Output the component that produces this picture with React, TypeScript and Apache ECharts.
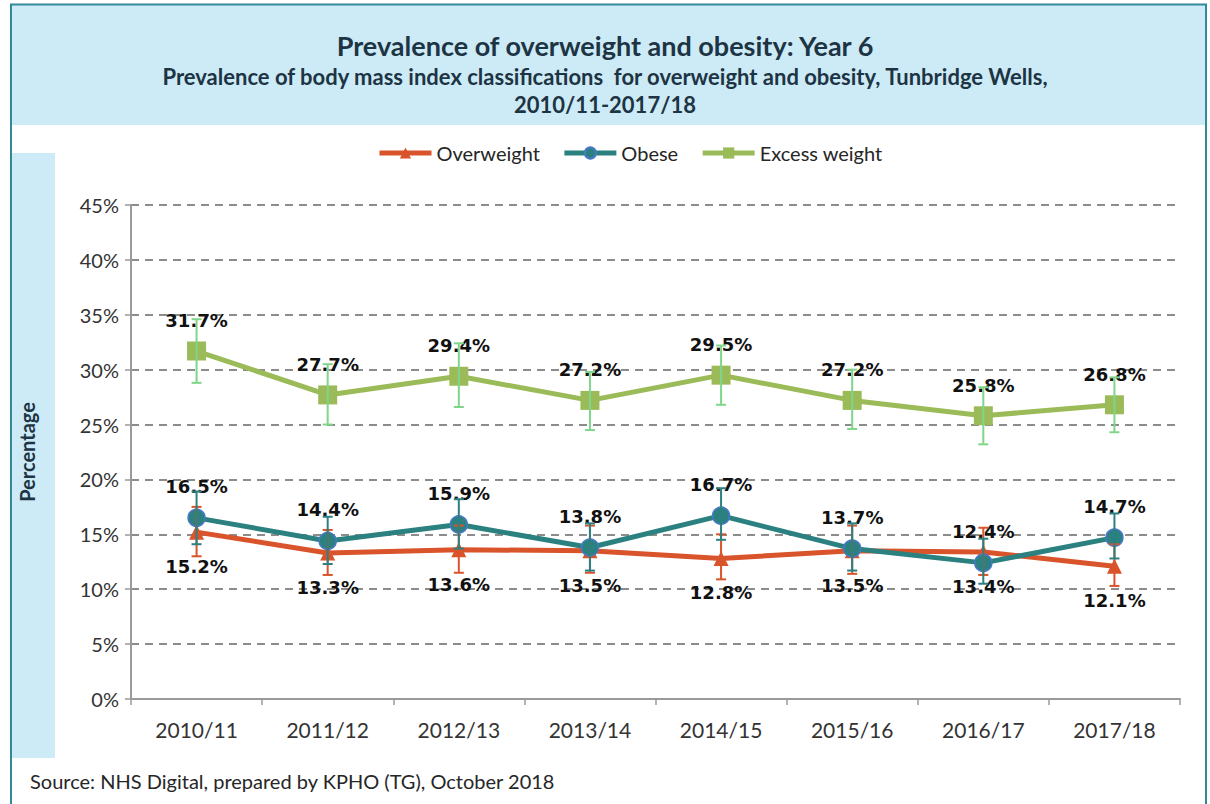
import React, { useEffect, useRef } from "react";
import * as echarts from "echarts";

const categories = ["2010/11", "2011/12", "2012/13", "2013/14", "2014/15", "2015/16", "2016/17", "2017/18"];
const overweight = [15.2, 13.3, 13.6, 13.5, 12.8, 13.5, 13.4, 12.1];
const overweightLower = [13.0, 11.3, 11.5, 11.5, 10.9, 11.4, 11.3, 10.3];
const overweightUpper = [17.5, 15.4, 15.8, 15.8, 15.0, 15.8, 15.6, 14.1];
const obese = [16.5, 14.4, 15.9, 13.8, 16.7, 13.7, 12.4, 14.7];
const obeseLower = [14.1, 12.3, 13.7, 11.7, 14.5, 11.7, 10.5, 12.8];
const obeseUpper = [18.9, 16.6, 18.2, 16.0, 19.2, 16.0, 14.6, 16.9];
const excess = [31.7, 27.7, 29.4, 27.2, 29.5, 27.2, 25.8, 26.8];
const excessLower = [28.8, 25.0, 26.6, 24.5, 26.8, 24.6, 23.2, 24.3];
const excessUpper = [34.6, 30.5, 32.4, 29.8, 32.2, 30.0, 28.4, 29.3];

const RED = "#d9532b";
const TEAL = "#2b8080";
const GREEN = "#9bbb59";
const GREEN_ERR = "#7fd68a";
const FONT = "Lato, 'Open Sans', sans-serif";
const LABEL_FONT = "'DejaVu Sans', sans-serif";

function errorSeries(name: string, lower: number[], upper: number[], color: string) {
  return {
    type: "custom",
    name,
    z: 3,
    silent: true,
    renderItem: (params: any, api: any) => {
      const x = api.value(0);
      const top = api.coord([x, api.value(2)]);
      const bot = api.coord([x, api.value(1)]);
      const w = 5;
      const style = { stroke: color, lineWidth: 2 };
      return {
        type: "group",
        children: [
          { type: "line", shape: { x1: top[0], y1: top[1], x2: bot[0], y2: bot[1] }, style },
          { type: "line", shape: { x1: top[0] - w, y1: top[1], x2: top[0] + w, y2: top[1] }, style },
          { type: "line", shape: { x1: bot[0] - w, y1: bot[1], x2: bot[0] + w, y2: bot[1] }, style },
        ],
      };
    },
    data: categories.map((_, i) => [i, lower[i], upper[i]]),
  };
}

function labelCfg(position: string, distance: number) {
  return {
    show: true,
    position,
    distance,
    formatter: (p: any) => `${p.value.toFixed(1)}%`,
    fontFamily: LABEL_FONT,
    fontWeight: "bold",
    fontSize: 18,
    color: "#111",
  };
}

export default function App() {
  const ref = useRef<HTMLDivElement>(null);
  useEffect(() => {
    const chart = echarts.init(ref.current!, null, { renderer: "svg" });
    chart.setOption({
      animation: false,
      backgroundColor: "#ffffff",
      graphic: [
        { type: "rect", z: -10, shape: { x: 12, y: 5, width: 1194, height: 120 }, style: { fill: "#cdebf6" } },
        { type: "rect", z: -10, shape: { x: 12, y: 153, width: 43, height: 605 }, style: { fill: "#cdebf6" } },
        { type: "rect", z: -9, shape: { x: 11, y: 4.5, width: 1195, height: 820 }, style: { fill: "none", stroke: "#31899a", lineWidth: 2 } },
        {
          type: "text",
          left: 30,
          top: 771,
          style: { text: "Source: NHS Digital, prepared by KPHO (TG), October 2018", fontFamily: FONT, fontSize: 20, fill: "#262626" },
        },
      ],
      title: [
        {
          text: "Prevalence of overweight and obesity: Year 6",
          left: "center",
          top: 27,
          textStyle: { fontFamily: FONT, fontWeight: "bold", fontSize: 27, color: "#1d3444" },
        },
        {
          text: "Prevalence of body mass index classifications  for overweight and obesity, Tunbridge Wells,\n2010/11-2017/18",
          left: "center",
          top: 57,
          textStyle: { fontFamily: FONT, fontWeight: "bold", fontSize: 22, color: "#1d3444", lineHeight: 28 },
        },
      ],
      legend: {
        top: 138,
        left: 372,
        itemWidth: 52,
        itemHeight: 14,
        itemGap: 22,
        data: [
          { name: "Overweight", lineStyle: { width: 5 } },
          { name: "Obese", lineStyle: { width: 5 } },
          { name: "Excess weight", lineStyle: { width: 5 } },
        ],
        textStyle: { fontFamily: FONT, fontSize: 20, color: "#262626" },
      },
      grid: { left: 131, right: 30, top: 205, bottom: 105 },
      xAxis: {
        type: "category",
        data: categories,
        boundaryGap: true,
        axisLine: { lineStyle: { color: "#9a9a9a", width: 2 } },
        axisTick: { show: true, length: 6, lineStyle: { color: "#9a9a9a", width: 1.5 } },
        axisLabel: { fontFamily: FONT, fontSize: 21, color: "#333", margin: 20 },
      },
      yAxis: {
        type: "value",
        min: 0,
        max: 45,
        interval: 5,
        name: "Percentage",
        nameLocation: "middle",
        nameRotate: 90,
        nameGap: 94,
        nameTextStyle: { fontFamily: FONT, fontWeight: "bold", fontSize: 20, color: "#1d3444" },
        axisLine: { show: true, lineStyle: { color: "#9a9a9a", width: 2 } },
        axisTick: { show: true, length: 6, lineStyle: { color: "#9a9a9a", width: 1.5 } },
        axisLabel: { formatter: "{value}%", fontFamily: FONT, fontSize: 20, color: "#333", margin: 12 },
        splitLine: { show: true, lineStyle: { color: "#8c8c8c", width: 2, type: [8, 6] } },
      },
      series: [
        {
          type: "line",
          name: "Overweight",
          data: overweight,
          z: 2,
          symbol: "triangle",
          symbolSize: 15,
          lineStyle: { color: RED, width: 5 },
          itemStyle: { color: RED },
          label: labelCfg("bottom", 18),
        },
        {
          type: "line",
          name: "Obese",
          data: obese,
          z: 2,
          symbol: "circle",
          symbolSize: 17,
          lineStyle: { color: TEAL, width: 5 },
          itemStyle: { color: TEAL, borderColor: "#4a78c8", borderWidth: 1.5 },
          label: labelCfg("top", 13),
        },
        {
          type: "line",
          name: "Excess weight",
          data: excess,
          z: 2,
          symbol: "rect",
          symbolSize: 19,
          lineStyle: { color: GREEN, width: 5 },
          itemStyle: { color: GREEN },
          label: labelCfg("top", 12),
        },
        errorSeries("Overweight CI", overweightLower, overweightUpper, RED),
        errorSeries("Obese CI", obeseLower, obeseUpper, TEAL),
        errorSeries("Excess CI", excessLower, excessUpper, GREEN_ERR),
      ],
    });
    return () => chart.dispose();
  }, []);
  return <div ref={ref} style={{ position: "fixed", left: 0, top: 0, width: 1210, height: 804 }} />;
}
